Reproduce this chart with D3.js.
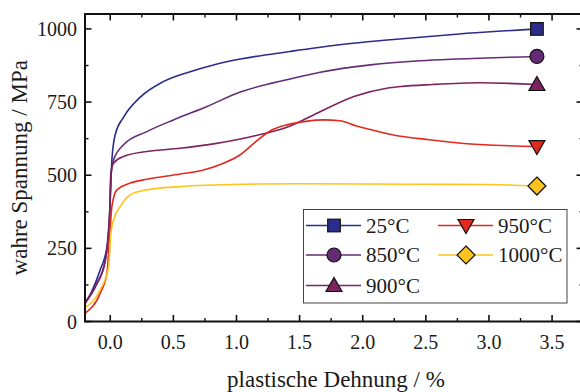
<!DOCTYPE html>
<html>
<head>
<meta charset="utf-8">
<script src="https://cdn.jsdelivr.net/npm/d3@7"></script>
<style>
  html, body { margin: 0; padding: 0; background: #fff; }
  svg { display: block; }
  text { font-family: "Liberation Serif", "DejaVu Serif", serif; fill: #1a1a1a; }
</style>
</head>
<body>
<svg id="chart" width="580" height="392"></svg>
<script>
// Temperatures (legend labels)
const series = ["25°C", "850°C", "900°C", "950°C", "1000°C"];
const colors = ["#2b2d8c", "#652b77", "#7c2360", "#e02a1f", "#fdc41d"];
const markerKinds = ["square", "circle", "triangle", "triangleDown", "diamond"];

// plastic strain (%) and true stress (MPa) per temperature
const strain25 = [-0.2, -0.15, -0.08, -0.026, 0, 0.013, 0.04, 0.105, 0.238, 0.42, 0.633, 0.818, 1.03, 1.425, 1.8, 2.22, 2.74, 3.38];
const stress25 = [60, 100, 176, 256, 416, 552, 640, 698, 767, 820, 854, 877, 897, 923, 945, 963, 982, 1000];

const strain850 = [-0.2, -0.106, -0.04, -0.005, 0.005, 0.026, 0.105, 0.29, 0.5, 0.767, 1.03, 1.425, 1.663, 2.06, 2.455, 2.74, 3.38];
const stress850 = [66, 131, 210, 347, 495, 552, 604, 649, 689, 735, 784, 829, 852, 877, 891, 897, 906];

const strain900 = [-0.2, -0.11, -0.04, -0.005, 0.005, 0.026, 0.105, 0.29, 0.554, 0.818, 1.03, 1.137, 1.40, 1.663, 1.93, 2.19, 2.30, 2.55, 2.93, 3.38];
const stress900 = [62, 125, 205, 360, 507, 541, 564, 581, 592, 607, 624, 634, 664, 717, 769, 797, 803, 810, 816, 810];

const strain950 = [-0.2, -0.08, -0.026, -0.005, 0.013, 0.053, 0.158, 0.29, 0.554, 0.739, 0.897, 1.03, 1.137, 1.27, 1.40, 1.55, 1.69, 1.82, 1.95, 2.06, 2.30, 2.455, 2.74, 3.38];
const stress950 = [28, 96, 165, 290, 393, 450, 473, 486, 504, 518, 541, 570, 609, 652, 672, 684, 689, 686, 668, 656, 633, 625, 611, 598];

const strain1000 = [-0.2, -0.08, -0.013, 0.005, 0.026, 0.079, 0.158, 0.29, 0.554, 1.03, 1.5, 2.0, 2.5, 3.0, 3.38];
const stress1000 = [48, 108, 187, 302, 347, 393, 433, 450, 461, 469, 471, 470, 469, 468, 463];

const strains = [strain25, strain850, strain900, strain950, strain1000];
const stresses = [stress25, stress850, stress900, stress950, stress1000];

const xMajor = [0.0, 0.5, 1.0, 1.5, 2.0, 2.5, 3.0, 3.5];
const yMajor = [0, 250, 500, 750, 1000];

const svg = d3.select("#chart");
const padL = 85, padR = 583, padT = 14, padB = 321.5;

const x = d3.scaleLinear().domain([-0.2, 3.745]).range([padL, padR]);
const y = d3.scaleLinear().domain([0, 1051]).range([padB, padT]);

// curves
const line = d3.line()
  .x(d => x(d[0]))
  .y(d => y(d[1]))
  .curve(d3.curveMonotoneX);

const plot = svg.append("g");
series.forEach((name, i) => {
  const pts = strains[i].map((s, j) => [s, stresses[i][j]]);
  plot.append("path")
    .datum(pts)
    .attr("fill", "none")
    .attr("stroke", colors[i])
    .attr("stroke-width", 1.6)
    .attr("d", line);
});

// markers
function drawMarker(g, kind, cx, cy, color) {
  const sw = 1.2;
  if (kind === "square") {
    g.append("rect").attr("x", cx - 6.3).attr("y", cy - 6.3).attr("width", 12.6).attr("height", 12.6)
      .attr("fill", color).attr("stroke", "#111").attr("stroke-width", sw);
  } else if (kind === "circle") {
    g.append("circle").attr("cx", cx).attr("cy", cy).attr("r", 7)
      .attr("fill", color).attr("stroke", "#111").attr("stroke-width", sw);
  } else if (kind === "triangle") {
    g.append("path").attr("d", `M${cx},${cy - 8} L${cx + 8},${cy + 6} L${cx - 8},${cy + 6} Z`)
      .attr("fill", color).attr("stroke", "#111").attr("stroke-width", sw);
  } else if (kind === "triangleDown") {
    g.append("path").attr("d", `M${cx},${cy + 8} L${cx + 8},${cy - 6} L${cx - 8},${cy - 6} Z`)
      .attr("fill", color).attr("stroke", "#111").attr("stroke-width", sw);
  } else if (kind === "diamond") {
    g.append("path").attr("d", `M${cx},${cy - 9} L${cx + 9},${cy} L${cx},${cy + 9} L${cx - 9},${cy} Z`)
      .attr("fill", color).attr("stroke", "#111").attr("stroke-width", sw);
  }
}
series.forEach((name, i) => {
  const n = strains[i].length - 1;
  drawMarker(plot, markerKinds[i], x(strains[i][n]), y(stresses[i][n]), colors[i]);
});

// axes: ticks point inward on all four sides
const xMinor = [0.25, 0.75, 1.25, 1.75, 2.25, 2.75, 3.25];
const yMinor = [125, 375, 625, 875];

const axG = svg.append("g").attr("stroke", "#111");
axG.append("rect").attr("x", padL).attr("y", padT).attr("width", padR - padL).attr("height", padB - padT)
  .attr("fill", "none").attr("stroke-width", 2);

xMajor.forEach(v => {
  axG.append("line").attr("x1", x(v)).attr("x2", x(v)).attr("y1", padB).attr("y2", padB - 6.5).attr("stroke-width", 1.6);
  axG.append("line").attr("x1", x(v)).attr("x2", x(v)).attr("y1", padT).attr("y2", padT + 6.5).attr("stroke-width", 1.6);
});
xMinor.forEach(v => {
  axG.append("line").attr("x1", x(v)).attr("x2", x(v)).attr("y1", padB).attr("y2", padB - 3.5).attr("stroke-width", 1.4);
  axG.append("line").attr("x1", x(v)).attr("x2", x(v)).attr("y1", padT).attr("y2", padT + 3.5).attr("stroke-width", 1.4);
});
yMajor.forEach(v => {
  axG.append("line").attr("x1", padL).attr("x2", padL + 6.5).attr("y1", y(v)).attr("y2", y(v)).attr("stroke-width", 1.6);
  axG.append("line").attr("x1", padR).attr("x2", padR - 6.5).attr("y1", y(v)).attr("y2", y(v)).attr("stroke-width", 1.6);
});
yMinor.forEach(v => {
  axG.append("line").attr("x1", padL).attr("x2", padL + 3.5).attr("y1", y(v)).attr("y2", y(v)).attr("stroke-width", 1.4);
  axG.append("line").attr("x1", padR).attr("x2", padR - 3.5).attr("y1", y(v)).attr("y2", y(v)).attr("stroke-width", 1.4);
});

// tick labels
const fmtX = d3.format(".1f");
svg.append("g").selectAll("text").data(xMajor).join("text")
  .attr("x", d => x(d)).attr("y", 349)
  .attr("text-anchor", "middle").attr("font-size", 20)
  .text(d => fmtX(d));
svg.append("g").selectAll("text").data(yMajor).join("text")
  .attr("x", 77).attr("y", d => y(d)).attr("dy", "0.35em")
  .attr("text-anchor", "end").attr("font-size", 20)
  .text(d => d);

// axis titles
svg.append("text").attr("x", (padL + padR) / 2 + 2).attr("y", 387)
  .attr("text-anchor", "middle").attr("font-size", 23)
  .text("plastische Dehnung / %");
svg.append("text").attr("transform", `translate(27,${(padT + padB) / 2}) rotate(-90)`)
  .attr("text-anchor", "middle").attr("font-size", 23)
  .text("wahre Spannung / MPa");

// legend
const lg = svg.append("g");
lg.append("rect").attr("x", 303.5).attr("y", 209.5).attr("width", 263.5).attr("height", 93.5)
  .attr("fill", "#fff").attr("stroke", "#444").attr("stroke-width", 1);
const cols = [{x0: 306, x1: 361, mx: 334, tx: 366}, {x0: 438, x1: 493, mx: 466, tx: 498}];
const rows = [225.5, 255, 285.5];
const slots = [[0, 0], [0, 1], [0, 2], [1, 0], [1, 1]];
series.forEach((name, i) => {
  const c = cols[slots[i][0]], ry = rows[slots[i][1]];
  lg.append("line").attr("x1", c.x0).attr("x2", c.x1).attr("y1", ry).attr("y2", ry)
    .attr("stroke", colors[i]).attr("stroke-width", 1.6);
  drawMarker(lg, markerKinds[i], c.mx, ry, colors[i]);
  lg.append("text").attr("x", c.tx).attr("y", ry).attr("dy", "0.35em")
    .attr("font-size", 21).text(name);
});
</script>
</body>
</html>
